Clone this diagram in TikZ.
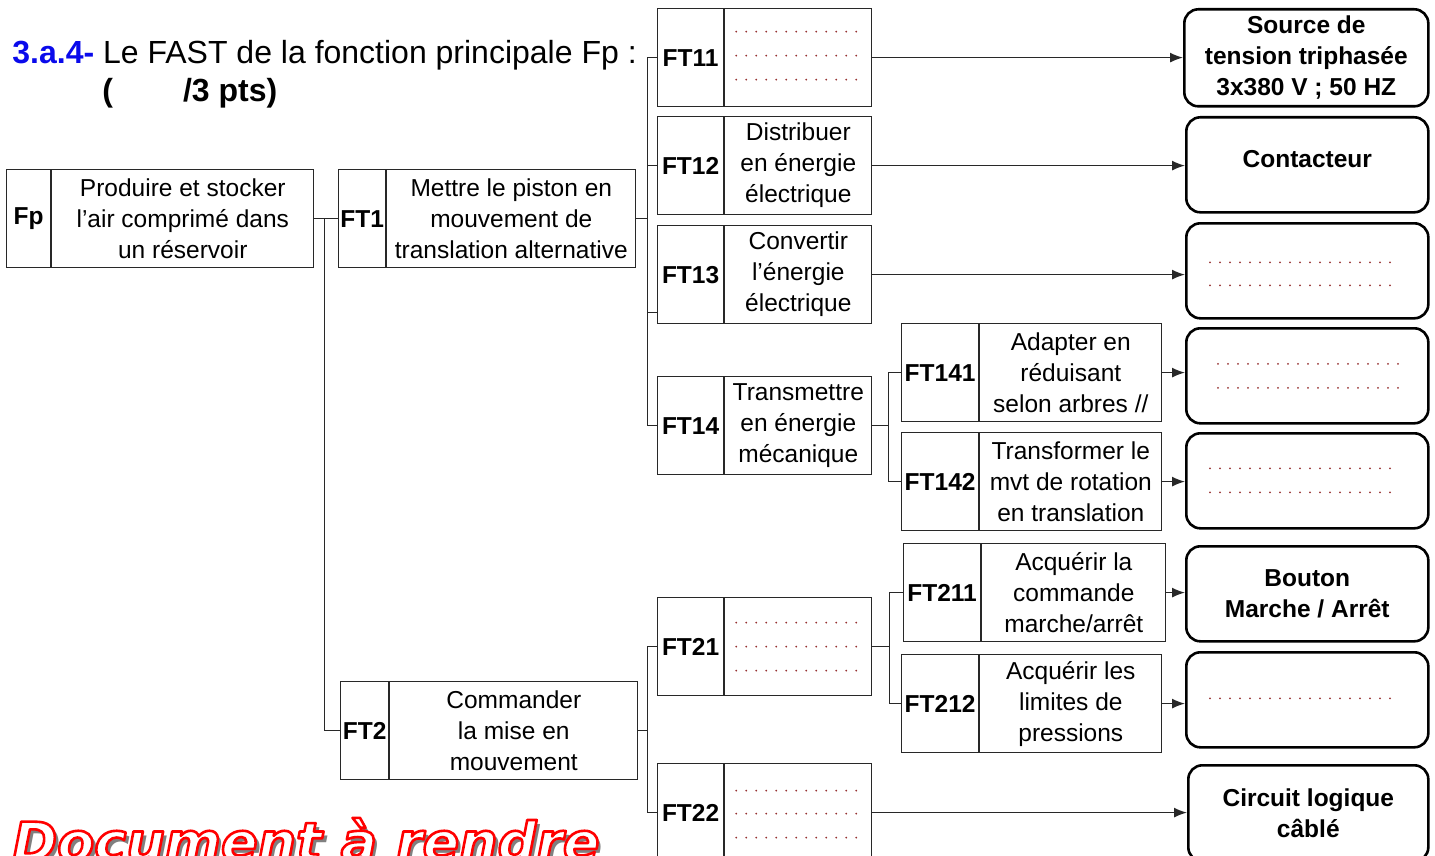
\documentclass[tikz,border=0pt]{standalone}
\usepackage{fontspec}
\setmainfont{Liberation Sans}
\newfontfamily\docfont{DejaVu Sans Bold Oblique}
\usepackage{tikz}
\usetikzlibrary{arrows.meta}

\definecolor{bleu}{RGB}{10,10,235}
\definecolor{rouge}{RGB}{150,50,50}
\definecolor{trait}{RGB}{40,40,40}

% nom, x, y, largeur repere, largeur totale, repere, texte
\newcommand{\boitefct}[7]{%
  \node[lab, minimum width=#4*0.5pt] (#1) at (#2,#3) {#6};
  \node[txt, minimum width=(#5-#4)*0.5pt] (#1t) at (#1.north east) {#7};
}
% texte blanc cerne de rouge
\newcommand{\cerne}[1]{\special{pdf:literal direct 2 Tr 1 1 1 rg 1 0 0 RG 1.3 w 1 j}#1\special{pdf:literal direct 0 Tr}}

\begin{document}
\begin{tikzpicture}[x=0.5pt,y=-0.5pt]
    \tikzstyle{every node}=[font=\fontsize{12.25}{15.5}\selectfont, inner sep=0pt]
    \tikzstyle{cell}=[draw=trait, line width=0.6pt, minimum height=49pt, anchor=north west]
    \tikzstyle{lab}=[cell, font=\fontsize{12.25}{15.5}\selectfont\bfseries]
    \tikzstyle{txt}=[cell, align=center]
    \tikzstyle{cible}=[draw=black, line width=1.3pt, rounded corners=7pt, minimum width=121pt,
      minimum height=47.5pt, anchor=north west, align=center,
      font=\fontsize{12.25}{15.5}\selectfont\bfseries]
    \tikzstyle{liaison}=[draw=trait, line width=0.7pt]
    \tikzstyle{fleche}=[liaison, -{Latex[length=6.5pt,width=5pt]}]
    \tikzstyle{pointilles}=[draw=rouge, line width=1pt, line cap=round, dash pattern=on 0pt off 5pt]
    \tikzstyle{doc}=[anchor=base west, font=\docfont\fontsize{27}{30}\selectfont]
    \useasboundingbox (0,0) rectangle (1435,856);

    % titre
    \node[anchor=base west, font=\fontsize{16}{19}\selectfont] (titre) at (12,64)
      {\textcolor{bleu}{\bfseries 3.a.4-} Le FAST de la fonction principale Fp :};
    \node[anchor=base west, font=\fontsize{16}{19}\selectfont\bfseries] (bareme) at (102,102)
      {(\hspace{35pt}/3 pts)};

    % fonctions
    \boitefct{fp}{6}{169}{44}{306}{Fp}{Produire et stocker\\l'air comprimé dans\\un réservoir}
    \boitefct{ft1}{338}{169}{47}{296}{FT1}{Mettre le piston en\\mouvement de\\translation alternative}
    \boitefct{ft2}{340}{681}{48}{296}{FT2}{Commander\\la mise en\\mouvement}
    \boitefct{ft11}{657}{8}{66}{213}{FT11}{}
    \boitefct{ft12}{657}{116}{66}{213}{FT12}{Distribuer\\en énergie\\électrique}
    \boitefct{ft13}{657}{225}{66}{213}{FT13}{Convertir\\l'énergie\\électrique}
    \boitefct{ft14}{657}{376}{66}{213}{FT14}{Transmettre\\en énergie\\mécanique}
    \boitefct{ft141}{901}{323}{77}{259}{FT141}{Adapter en\\réduisant\\selon arbres //}
    \boitefct{ft142}{901}{432}{77}{259}{FT142}{Transformer le\\mvt de rotation\\en translation}
    \boitefct{ft21}{657}{597}{66}{213}{FT21}{}
    \boitefct{ft22}{657}{763}{66}{213}{FT22}{}
    \boitefct{ft211}{903}{543}{77}{261}{FT211}{Acquérir la\\commande\\marche/arrêt}
    \boitefct{ft212}{901}{654}{77}{259}{FT212}{Acquérir les\\limites de\\pressions}

    % solutions
    \node[cible, minimum width=122pt, minimum height=48.5pt] (r1) at (1183,8)
      {Source de\\tension triphasée\\3x380 V ; 50 HZ};
    \node[cible] (r2) at (1185,116) {};
    \node[font=\fontsize{12.25}{15.5}\selectfont\bfseries] (r2t) at ([yshift=3pt]r2.center) {Contacteur};
    \node[cible] (r3) at (1185,222) {};
    \node[cible] (r4) at (1185,327) {};
    \node[cible] (r5) at (1185,432) {};
    \node[cible] (r6) at (1185,545) {Bouton\\Marche / Arrêt};
    \node[cible] (r7) at (1185,651) {};
    \node[cible, minimum width=120pt, minimum height=48pt] (r8) at (1187,764) {Circuit logique\\câblé};

    % pointilles a completer
    \foreach \dy in {-26,-2,22}
      \draw[pointilles] ([shift={(12,\dy)}]ft11t.west) -- ++(125,0);
    \foreach \dy in {-24,0,24}
      \draw[pointilles] ([shift={(12,\dy)}]ft21t.west) -- ++(125,0);
    \foreach \dy in {-22,1,25}
      \draw[pointilles] ([shift={(12,\dy)}]ft22t.west) -- ++(125,0);
    \foreach \dy in {-8.5,14.5}
      \draw[pointilles] ([shift={(25,\dy)}]r3.west) -- ++(185,0);
    \foreach \dy in {-12,12}
      \draw[pointilles] ([shift={(33,\dy)}]r4.west) -- ++(185,0);
    \foreach \dy in {-12.5,11.5}
      \draw[pointilles] ([shift={(25,\dy)}]r5.west) -- ++(185,0);
    \draw[pointilles] ([shift={(25,-1.5)}]r7.west) -- ++(185,0);

    % liaisons
    \draw[liaison] (fpt.east) -- (ft1.west);
    \draw[liaison] ([xshift=5pt]fpt.east) |- (ft2.west);

    \coordinate (b1) at ([xshift=5.5pt]ft1t.east);
    \coordinate (e13) at ([yshift=6pt]ft13.south west);
    \draw[liaison] (ft1t.east) -- (b1);
    \draw[liaison] (ft11.west) -| (b1 |- ft14.west) -- (ft14.west);
    \draw[liaison] (b1 |- ft12.west) -- (ft12.west);
    \draw[liaison] (b1 |- e13) -- (e13);

    \coordinate (b14) at ([xshift=8pt]ft14t.east);
    \draw[liaison] (ft14t.east) -- (b14);
    \draw[liaison] (ft141.west) -| (b14 |- ft142.west) -- (ft142.west);

    \coordinate (b2) at ([xshift=4.5pt]ft2t.east);
    \draw[liaison] (ft2t.east) -- (b2);
    \draw[liaison] (ft21.west) -| (b2 |- ft22.west) -- (ft22.west);

    \coordinate (b21) at ([xshift=8.5pt]ft21t.east);
    \draw[liaison] (ft21t.east) -- (b21);
    \draw[liaison] (ft211.west) -| (b21 |- ft212.west) -- (ft212.west);

    % fleches vers les solutions
    \draw[fleche] (ft11t.east) -- (ft11t.east -| r1.west);
    \draw[fleche] (ft12t.east) -- (ft12t.east -| r2.west);
    \draw[fleche] (ft13t.east) -- (ft13t.east -| r3.west);
    \draw[fleche] (ft141t.east) -- (ft141t.east -| r4.west);
    \draw[fleche] (ft142t.east) -- (ft142t.east -| r5.west);
    \draw[fleche] (ft211t.east) -- (ft211t.east -| r6.west);
    \draw[fleche] (ft212t.east) -- (ft212t.east -| r7.west);
    \draw[fleche] (ft22t.east) -- (ft22t.east -| r8.west);

    % document a rendre
    \node[doc, text=gray] (ombre) at (16,865) {Document à rendre};
    \node[doc] (doc) at (12,861) {\cerne{Document à rendre}};
\end{tikzpicture}
\end{document}
